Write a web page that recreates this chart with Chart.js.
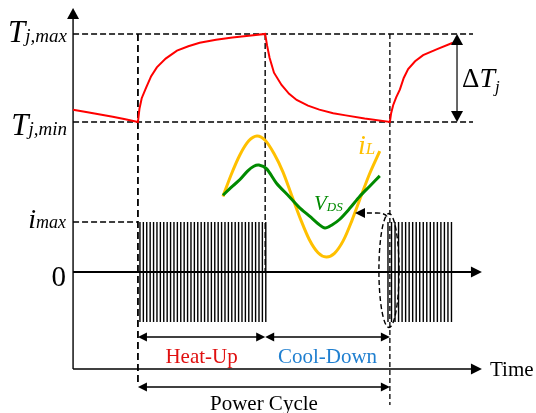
<!DOCTYPE html>
<html>
<head>
<meta charset="utf-8">
<script src="https://cdn.jsdelivr.net/npm/chart.js@4.4.0/dist/chart.umd.min.js"></script>
<style>
  html, body { margin: 0; padding: 0; background: #fff; }
  canvas { display: block; }
</style>
</head>
<body>
<canvas id="cycleChart" width="536" height="413"></canvas>
<script>
// === Daten ===
// junction temperature, normalised: 0 = Tj,min, 1 = Tj,max
const tempTime  = [4.85, 6.0, 7.0, 8.0, 9.0, 10.0, 10.12, 10.3, 10.65, 11.05, 11.5, 12.2, 13.1, 14.0, 14.9, 16.2, 17.5, 18.8, 20.1,
                   20.25, 20.45, 20.8, 21.4, 22.0, 22.6, 23.5, 24.4, 25.5, 26.5, 28.0, 30.0,
                   30.1, 30.26, 30.5, 30.8, 31.1, 31.45, 32.0, 32.64, 33.8, 35.0];
const tempLevel = [0.14, 0.11, 0.085, 0.06, 0.03, 0, 0.15, 0.27, 0.39, 0.52, 0.62, 0.72, 0.81, 0.86, 0.9, 0.935, 0.96, 0.98, 1.0,
                   0.87, 0.73, 0.56, 0.42, 0.32, 0.25, 0.185, 0.14, 0.1, 0.075, 0.04, 0,
                   0.1, 0.19, 0.28, 0.37, 0.5, 0.6, 0.69, 0.76, 0.83, 0.9];

// switching pulses (current, 0 .. ±imax)
const pulseTimesHeat = [10.16, 10.43, 10.70, 10.97, 11.24, 11.51, 11.78, 12.05, 12.32, 12.59, 12.86, 13.13, 13.40,
                        13.67, 13.94, 14.21, 14.48, 14.75, 15.02, 15.29, 15.56, 15.83, 16.10, 16.37, 16.64, 16.91,
                        17.18, 17.45, 17.72, 17.99, 18.26, 18.53, 18.80, 19.07, 19.34, 19.61, 19.88, 20.15];
const pulseTimesNext = [29.85, 30.13, 30.41, 30.69, 30.97, 31.25, 31.53, 31.81, 32.09, 32.37, 32.65, 32.93, 33.21,
                        33.49, 33.77, 34.05, 34.33, 34.61, 34.89];

// zoomed inset: inductor current and drain-source voltage
const iLTime   = [16.75, 17.4, 18.1, 18.8, 19.45, 20.1, 20.8, 21.5, 22.2, 22.9, 23.6, 24.3, 24.95, 25.6, 26.3, 27.0, 27.7, 28.4, 29.2];
const iLValue  = [0, 0.36, 0.69, 0.92, 1.0, 0.93, 0.71, 0.41, 0.02, -0.37, -0.71, -0.93, -1.0, -0.94, -0.73, -0.39, 0.0, 0.38, 0.75];
const vdsTime  = [16.75, 17.4, 18.1, 18.7, 19.2, 19.6, 20.2, 21.0, 22.0, 22.8, 23.65, 24.3, 24.85, 25.4, 26.0, 26.8, 27.6, 28.4, 29.2];
const vdsValue = [0.02, 0.15, 0.28, 0.42, 0.5, 0.52, 0.46, 0.22, 0.0, -0.18, -0.33, -0.45, -0.52, -0.47, -0.38, -0.2, 0.0, 0.17, 0.34];

// markers on the time axis
const T_AXIS = 4.85;
const T_START = 10;
const T_HEAT_END = 20.1;
const T_CYCLE_END = 30;
const T_GUIDE_END = 36.6;
const T_ARROW_TIP = 37.31;

const phaseLabels = ["Heat-Up", "Cool-Down"];
const cycleLabel = "Power Cycle";
const timeLabel = "Time";

// === Stil ===
const SERIF = '"Liberation Serif", "Times New Roman", serif';
const RED = "#ff0000";
const YELLOW = "#ffc000";
const GREEN = "#008a00";
const BLUE = "#1f7fd0";

const zip = (xs, ys) => xs.map((x, i) => ({ x, y: ys[i] }));
const pulseData = pulseTimesHeat.concat(pulseTimesNext)
  .flatMap((t) => [{ x: t, y: -1 }, { x: t, y: 1 }, { x: t, y: null }]);

// === Hilfsfunktionen ===
function richText(ctx, x, y, parts, align) {
  let w = 0;
  parts.forEach((p) => { ctx.font = p.font; p.w = ctx.measureText(p.text).width; w += p.w; });
  let cx = align === "right" ? x - w : align === "center" ? x - w / 2 : x;
  parts.forEach((p) => {
    ctx.font = p.font;
    ctx.fillStyle = p.color || "#000";
    ctx.fillText(p.text, cx, y + (p.dy || 0));
    cx += p.w;
  });
}

function head(ctx, x, y, angle, len, half) {
  ctx.save();
  ctx.translate(x, y);
  ctx.rotate(angle);
  ctx.beginPath();
  ctx.moveTo(0, 0);
  ctx.lineTo(-len, -half);
  ctx.lineTo(-len, half);
  ctx.closePath();
  ctx.fillStyle = "#000";
  ctx.fill();
  ctx.restore();
}

function line(ctx, x1, y1, x2, y2, width, dash) {
  ctx.save();
  ctx.beginPath();
  ctx.setLineDash(dash || []);
  ctx.lineWidth = width;
  ctx.strokeStyle = "#000";
  ctx.moveTo(x1, y1);
  ctx.lineTo(x2, y2);
  ctx.stroke();
  ctx.restore();
}

function dimArrow(ctx, x1, x2, y) {
  line(ctx, x1 + 8, y, x2 - 8, y, 1.3);
  head(ctx, x1, y, Math.PI, 9, 4.5);
  head(ctx, x2, y, 0, 9, 4.5);
}

// === Plugin: Achsen, Hilfslinien, Beschriftung ===
const schematic = {
  id: "schematic",
  beforeDatasetsDraw(chart) {
    const { ctx } = chart;
    const X = (t) => chart.scales.x.getPixelForValue(t);
    const T = (v) => chart.scales.yT.getPixelForValue(v);
    const I = (v) => chart.scales.yI.getPixelForValue(v);
    const dash = [6, 3];

    // Tj,max / Tj,min / imax guides
    line(ctx, X(T_AXIS), T(1), X(T_GUIDE_END), T(1), 1.5, dash);
    line(ctx, X(T_AXIS), T(0), X(T_GUIDE_END), T(0), 1.5, dash);
    line(ctx, X(T_AXIS), I(1), X(T_START), I(1), 1.6, dash);

    // vertical phase guides
    line(ctx, X(T_START), T(1), X(T_START), I(-2.26), 1.8, [7, 4]);
    line(ctx, X(T_HEAT_END), T(1), X(T_HEAT_END), I(0), 1.4, dash);
    line(ctx, X(T_CYCLE_END), T(1), X(T_CYCLE_END), I(-2.66), 1.3, [5, 3]);

    // axes
    line(ctx, X(T_AXIS), T(1.17), X(T_AXIS), I(-1.94), 1.4);
    head(ctx, X(T_AXIS), T(1.295), -Math.PI / 2, 11, 6);
    line(ctx, X(T_AXIS), I(-1.94), X(T_ARROW_TIP) - 10, I(-1.94), 1.4);
    head(ctx, X(T_ARROW_TIP), I(-1.94), 0, 11, 5.5);
    line(ctx, X(T_AXIS), I(0), X(T_ARROW_TIP) - 10, I(0), 2.2);
    head(ctx, X(T_ARROW_TIP), I(0), 0, 11, 5.5);
  },
  afterDatasetsDraw(chart) {
    const { ctx } = chart;
    const X = (t) => chart.scales.x.getPixelForValue(t);
    const T = (v) => chart.scales.yT.getPixelForValue(v);
    const I = (v) => chart.scales.yI.getPixelForValue(v);
    const W = (v) => chart.scales.yW.getPixelForValue(v);
    ctx.save();
    ctx.textBaseline = "alphabetic";

    // level labels
    richText(ctx, X(4.37), T(1) + 8, [
      { text: "T", font: `italic 31px ${SERIF}` },
      { text: "j,max", font: `italic 19px ${SERIF}`, dy: 0 },
    ], "right");
    richText(ctx, X(4.37), T(0) + 13, [
      { text: "T", font: `italic 31px ${SERIF}` },
      { text: "j,min", font: `italic 19px ${SERIF}`, dy: 0 },
    ], "right");
    richText(ctx, X(4.29), I(1) + 6, [
      { text: "i", font: `italic 28px ${SERIF}` },
      { text: "max", font: `italic 18px ${SERIF}` },
    ], "right");
    richText(ctx, X(4.29), I(0) + 14, [{ text: "0", font: `29px ${SERIF}` }], "right");

    // Delta Tj
    const xd = X(35.33);
    line(ctx, xd, T(1) + 10, xd, T(0) - 10, 1.2);
    head(ctx, xd, T(1), -Math.PI / 2, 11, 6);
    head(ctx, xd, T(0), Math.PI / 2, 11, 6);
    richText(ctx, X(35.73), T(0.4), [
      { text: "\u0394", font: `27px ${SERIF}` },
      { text: "T", font: `italic 28px ${SERIF}` },
      { text: "j", font: `italic 17px ${SERIF}`, dy: 5 },
    ], "left");

    // inset labels
    richText(ctx, X(27.47), W(0) - 42, [
      { text: "i", font: `italic 28px ${SERIF}`, color: YELLOW },
      { text: "L", font: `italic 17px ${SERIF}`, color: YELLOW },
    ], "left");
    richText(ctx, X(23.98), W(0) + 14, [
      { text: "V", font: `italic 21px ${SERIF}`, color: GREEN },
      { text: "DS", font: `italic 13px ${SERIF}`, color: GREEN, dy: 1 },
    ], "left");

    // dashed ellipse round the first pulses + pointer to the inset
    const ex = X(29.93), ey = I(0.03);
    const rx = X(29.93 + 0.8) - ex, ry = I(0.03) - I(1.17);
    ctx.beginPath();
    ctx.setLineDash([5, 3]);
    ctx.lineWidth = 1.4;
    ctx.strokeStyle = "#000";
    ctx.ellipse(ex, ey, rx, ry, 0, 0, Math.PI * 2);
    ctx.stroke();
    const tipX = X(27.23), tipY = I(1.18);
    ctx.beginPath();
    ctx.moveTo(ex - 2, ey - ry + 3);
    ctx.quadraticCurveTo(ex - 4, tipY, ex - 12, tipY);
    ctx.lineTo(tipX + 9, tipY);
    ctx.stroke();
    ctx.setLineDash([]);
    head(ctx, tipX, tipY, Math.PI, 10, 5);

    // phase arrows and names
    dimArrow(ctx, X(T_START), X(T_HEAT_END), I(-1.3));
    dimArrow(ctx, X(T_HEAT_END), X(T_CYCLE_END), I(-1.3));
    dimArrow(ctx, X(T_START), X(T_CYCLE_END), I(-2.3));
    richText(ctx, X((T_START + T_HEAT_END) / 2), I(-1.82),
      [{ text: phaseLabels[0], font: `21px ${SERIF}`, color: "#e01010" }], "center");
    richText(ctx, X((T_HEAT_END + T_CYCLE_END) / 2), I(-1.82),
      [{ text: phaseLabels[1], font: `21px ${SERIF}`, color: BLUE }], "center");
    richText(ctx, X((T_START + T_CYCLE_END) / 2), I(-2.76),
      [{ text: cycleLabel, font: `21px ${SERIF}` }], "center");
    richText(ctx, X(37.95), I(-1.94) + 7, [{ text: timeLabel, font: `21px ${SERIF}` }], "left");
    ctx.restore();
  },
};

// === Chart ===
new Chart(document.getElementById("cycleChart"), {
  type: "scatter",
  data: {
    datasets: [
      {
        label: "VDS",
        data: zip(vdsTime, vdsValue),
        yAxisID: "yW",
        showLine: true,
        borderColor: GREEN,
        borderWidth: 3,
        tension: 0.3,
        pointRadius: 0,
        order: 1,
      },
      {
        label: "iL",
        data: zip(iLTime, iLValue),
        yAxisID: "yW",
        showLine: true,
        borderColor: YELLOW,
        borderWidth: 3,
        tension: 0.3,
        pointRadius: 0,
        order: 2,
      },
      {
        label: "Tj",
        data: zip(tempTime, tempLevel),
        yAxisID: "yT",
        showLine: true,
        borderColor: RED,
        borderWidth: 2,
        tension: 0,
        pointRadius: 0,
        order: 3,
      },
      {
        label: "pulses",
        data: pulseData,
        yAxisID: "yI",
        showLine: true,
        spanGaps: false,
        borderColor: "#000",
        borderWidth: 1.4,
        pointRadius: 0,
        order: 4,
      },
    ],
  },
  options: {
    responsive: false,
    animation: false,
    layout: { padding: 0 },
    scales: {
      x:  { type: "linear", min: -0.95, max: 41.6, display: false },
      yT: { type: "linear", min: -3.307, max: 1.386, display: false },
      yI: { type: "linear", min: -2.82, max: 5.44, display: false },
      yW: { type: "linear", min: -3.579, max: 3.248, display: false },
    },
    plugins: {
      legend: { display: false },
      tooltip: { enabled: false },
    },
  },
  plugins: [schematic],
});
</script>
</body>
</html>
